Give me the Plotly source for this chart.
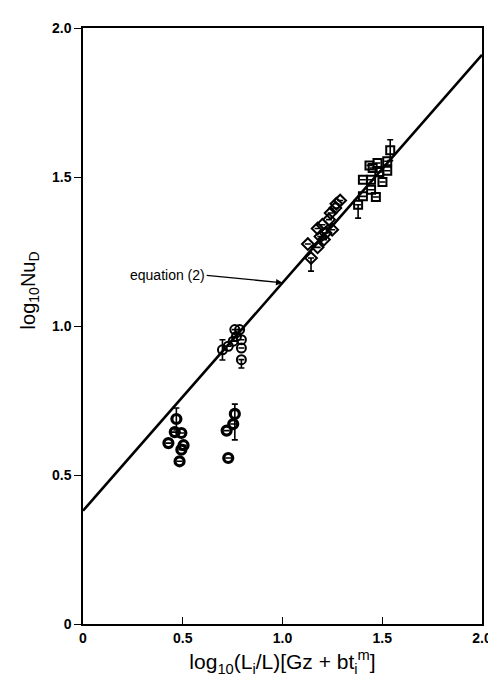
import plotly.graph_objects as go

# --- data ---
eq_x = [0.0, 2.0]
eq_y = [0.38, 1.91]

low_x = [0.468, 0.460, 0.493, 0.428, 0.504, 0.493, 0.484, 0.761, 0.753, 0.720, 0.728]
low_y = [0.688, 0.644, 0.641, 0.607, 0.600, 0.585, 0.546, 0.705, 0.671, 0.649, 0.557]
low_ep = [0.037, 0, 0, 0, 0, 0, 0, 0.033, 0, 0, 0]
low_em = [0.037, 0, 0, 0, 0, 0, 0, 0.087, 0, 0, 0]

circ_x = [0.699, 0.728, 0.753, 0.761, 0.785, 0.769, 0.794, 0.794, 0.794]
circ_y = [0.920, 0.932, 0.949, 0.988, 0.988, 0.965, 0.954, 0.926, 0.887]
circ_ep = [0.034, 0, 0, 0, 0, 0, 0, 0, 0]
circ_em = [0.034, 0, 0, 0, 0, 0, 0, 0, 0.028]

dia_x = [1.289, 1.265, 1.241, 1.233, 1.200, 1.176, 1.249, 1.216, 1.208, 1.176, 1.143, 1.127, 1.270, 1.190]
dia_y = [1.421, 1.396, 1.379, 1.357, 1.340, 1.327, 1.323, 1.312, 1.290, 1.264, 1.228, 1.275, 1.410, 1.300]
dia_ep = [0, 0, 0, 0, 0, 0, 0, 0, 0, 0, 0, 0, 0, 0]
dia_em = [0, 0, 0, 0, 0, 0, 0, 0, 0, 0, 0.044, 0, 0, 0]

sq_x = [1.525, 1.525, 1.476, 1.436, 1.485, 1.452, 1.403, 1.444, 1.501, 1.444, 1.468, 1.403, 1.379, 1.540]
sq_y = [1.553, 1.521, 1.547, 1.539, 1.517, 1.530, 1.491, 1.491, 1.483, 1.457, 1.433, 1.435, 1.407, 1.590]
sq_ep = [0, 0, 0, 0, 0, 0, 0, 0, 0, 0, 0, 0, 0, 0.035]
sq_em = [0, 0, 0, 0, 0, 0, 0, 0, 0, 0, 0, 0, 0.045, 0.035]

tick_vals = [0, 0.5, 1.0, 1.5, 2.0]
tick_text = ["0", "0.5", "1.0", "1.5", "2.0"]

FONT = "Liberation Sans, Arial, sans-serif"

fig = go.Figure()

fig.add_trace(go.Scatter(x=eq_x, y=eq_y, mode="lines",
                         line=dict(color="black", width=2.6), hoverinfo="skip"))


def add_points(xs, ys, ep, em, symbol, size, lw):
    fig.add_trace(go.Scatter(
        x=xs, y=ys, mode="markers",
        marker=dict(symbol=symbol, size=size, color="black",
                    line=dict(color="black", width=lw)),
        error_y=dict(type="data", symmetric=False, array=ep, arrayminus=em,
                     color="black", thickness=1.6, width=3),
    ))


add_points(low_x, low_y, low_ep, low_em, "circle-open", 9, 3.2)
add_points(circ_x, circ_y, circ_ep, circ_em, "circle-open", 9, 2)
add_points(dia_x, dia_y, dia_ep, dia_em, "diamond-open", 9, 2)
add_points(sq_x, sq_y, sq_ep, sq_em, "square-open", 8, 2)

fig.add_annotation(x=1.0, y=1.145, xref="x", yref="y",
                   ax=0.62, ay=1.17, axref="x", ayref="y",
                   text="equation (2)", showarrow=True, arrowhead=2,
                   arrowsize=1, arrowwidth=1.3, arrowcolor="black",
                   xanchor="right",
                   font=dict(family=FONT, size=14, color="black"))

fig.add_annotation(x=-0.135, y=0.56, xref="paper", yref="paper",
                   text="log<sub>10</sub>Nu<sub>D</sub>", showarrow=False,
                   textangle=-90, xanchor="center", yanchor="middle",
                   font=dict(family=FONT, size=20, color="black"))

axis_common = dict(range=[0, 2], tickvals=tick_vals, ticktext=tick_text,
                   showgrid=False, zeroline=False, showline=True, mirror=True,
                   linecolor="black", linewidth=1.5, ticklen=7, tickwidth=1.3,
                   tickcolor="black",
                   tickfont=dict(family=FONT, size=14, color="black", weight="bold"))

fig.update_xaxes(**axis_common, ticks="inside",
                 title=dict(text="log<sub>10</sub>(L<sub>i</sub>/L)[Gz + bt<sub>i</sub><sup>m</sup>]",
                            font=dict(family=FONT, size=21, color="black"),
                            standoff=10))
fig.update_yaxes(**axis_common, ticks="outside")

fig.update_layout(width=496, height=681, showlegend=False,
                  plot_bgcolor="white", paper_bgcolor="white",
                  margin=dict(l=75, r=16, t=20, b=65))

fig.write_html("out.html")
